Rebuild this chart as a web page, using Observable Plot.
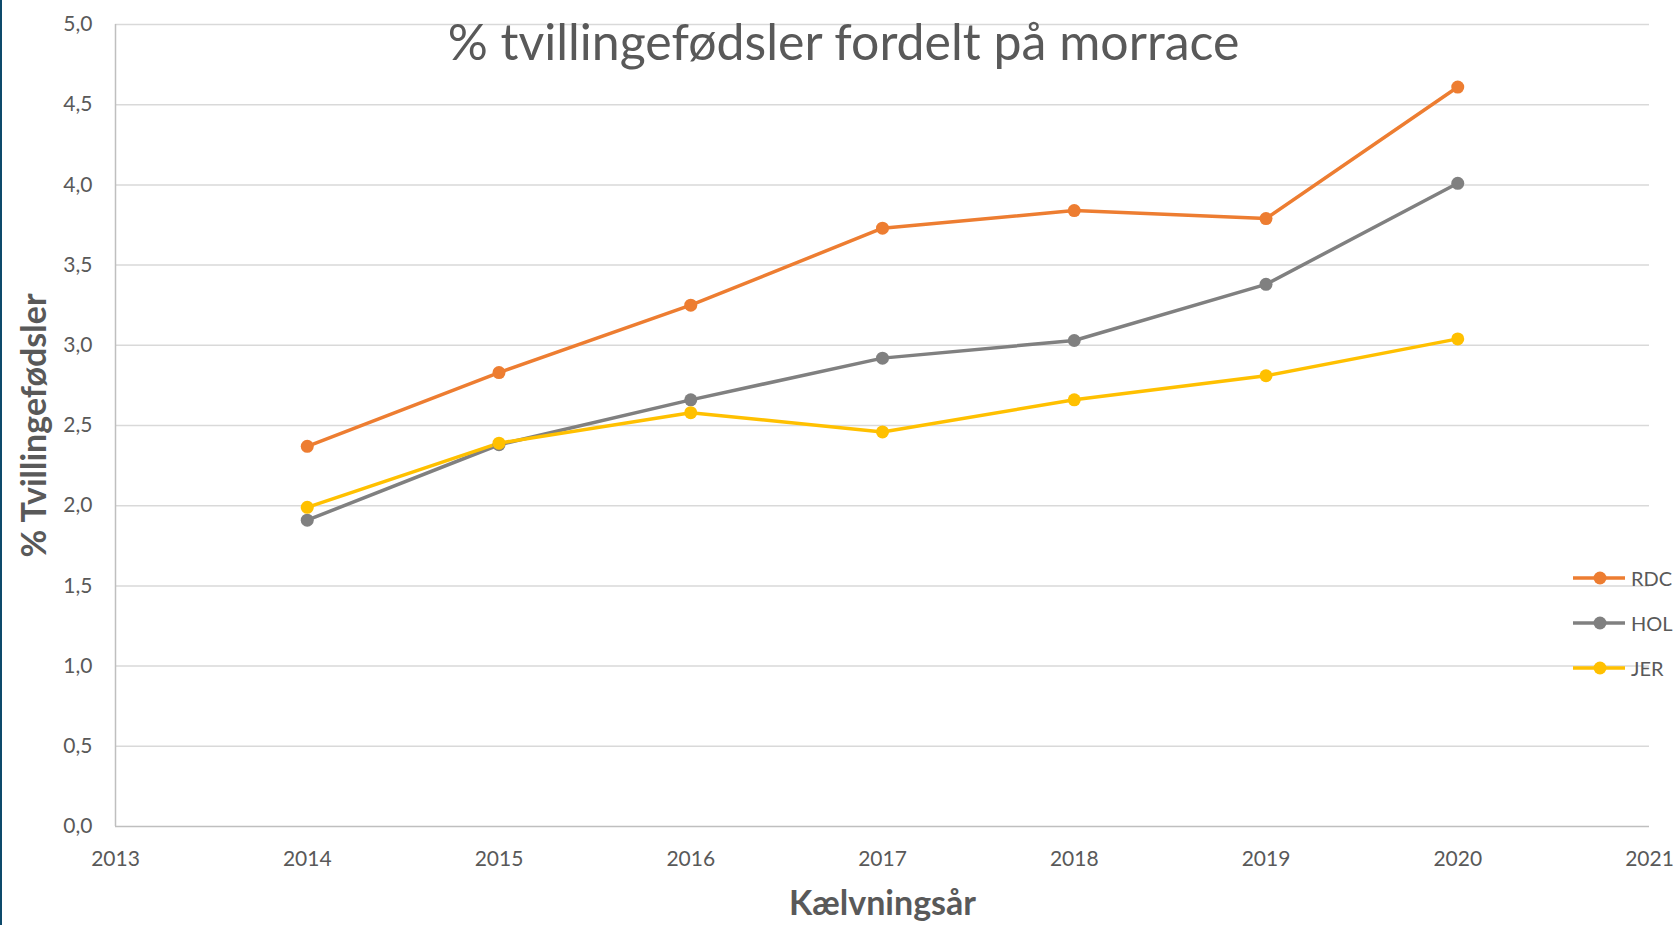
<!DOCTYPE html>
<html>
<head>
<meta charset="utf-8">
<script src="https://cdn.jsdelivr.net/npm/d3@7"></script>
<script src="https://cdn.jsdelivr.net/npm/@observablehq/plot@0.6"></script>
<style>
  html, body { margin: 0; padding: 0; background: #fff; }
  body { width: 1678px; height: 925px; position: relative; overflow: hidden; font-family: Lato, "Open Sans", sans-serif; }
  #edge { position: absolute; left: 0; top: 0; width: 2px; height: 925px; background: #0d4a6b; }
  #chart { position: absolute; left: 0; top: 0; }
  #legend { position: absolute; left: 1572px; top: 555px; font-family: Lato, sans-serif; font-size: 20px; color: #595959; }
  #legend .item { display: flex; align-items: center; height: 45px; }
  #legend svg { margin-right: 5px; }
</style>
</head>
<body>
<div id="edge"></div>
<div id="chart"></div>
<div id="legend"></div>
<script>
const years = [2014, 2015, 2016, 2017, 2018, 2019, 2020];
const seriesNames = ["RDC", "HOL", "JER"];
const rdc = [2.37, 2.83, 3.25, 3.73, 3.84, 3.79, 4.61];
const hol = [1.91, 2.38, 2.66, 2.92, 3.03, 3.38, 4.01];
const jer = [1.99, 2.39, 2.58, 2.46, 2.66, 2.81, 3.04];
const seriesColors = ["#ED7D31", "#808080", "#FFC000"];
const xTicks = [2013, 2014, 2015, 2016, 2017, 2018, 2019, 2020, 2021];
const yTicks = [0, 0.5, 1, 1.5, 2, 2.5, 3, 3.5, 4, 4.5, 5];
const titleText = "% tvillingefødsler fordelt på morrace";
const xLabel = "Kælvningsår";
const yLabel = "% Tvillingefødsler";

const valuesBySeries = {RDC: rdc, HOL: hol, JER: jer};
const data = seriesNames.flatMap(s => years.map((y, i) => ({series: s, year: y, value: valuesBySeries[s][i]})));
const fmtY = d => d3.format(".1f")(d).replace(".", ",");

const chart = Plot.plot({
  width: 1678,
  height: 925,
  marginLeft: 115,
  marginRight: 29,
  marginTop: 24,
  marginBottom: 99,
  style: {fontFamily: "Lato, 'Open Sans', sans-serif", color: "#595959", background: "transparent"},
  x: {domain: [2013, 2021], ticks: xTicks, tickFormat: d => String(d)},
  y: {domain: [0, 5], ticks: yTicks},
  color: {domain: seriesNames, range: seriesColors},
  marks: [
    Plot.gridY(yTicks.filter(d => d > 0), {stroke: "#D9D9D9", strokeOpacity: 1, strokeWidth: 1.5}),
    Plot.ruleY([0], {stroke: "#BFBFBF", strokeWidth: 1.5}),
    Plot.ruleX([2013], {stroke: "#BFBFBF", strokeWidth: 1.5}),
    Plot.axisX({ticks: xTicks, tickFormat: d => String(d), tickSize: 0, tickPadding: 25, fontSize: 21, label: null, fill: "#595959"}),
    Plot.axisY({ticks: yTicks, tickFormat: fmtY, tickSize: 0, tickPadding: 23, fontSize: 21, label: null, fill: "#595959"}),
    Plot.line(data, {x: "year", y: "value", z: "series", stroke: "series", strokeWidth: 3.5}),
    Plot.dot(data, {x: "year", y: "value", fill: "series", r: 6.5}),
    Plot.text([titleText], {frameAnchor: "top", dx: -39, dy: 19, fontSize: 50, fill: "#595959", lineAnchor: "middle"}),
    Plot.text([xLabel], {frameAnchor: "bottom", dx: 0, dy: 88, fontSize: 34, fontWeight: "bold", fill: "#595959"}),
    Plot.text([yLabel], {frameAnchor: "left", textAnchor: "middle", dx: -80, dy: 0, rotate: -90, fontSize: 34, fontWeight: "bold", fill: "#595959"})
  ]
});
document.getElementById("chart").appendChild(chart);

const legend = document.getElementById("legend");
seriesNames.forEach((s, i) => {
  const item = document.createElement("div");
  item.className = "item";
  item.innerHTML = `<svg width="54" height="16"><line x1="1" y1="8" x2="53" y2="8" stroke="${seriesColors[i]}" stroke-width="3.5"/><circle cx="28" cy="8" r="6.5" fill="${seriesColors[i]}"/></svg><span>${s}</span>`;
  legend.appendChild(item);
});
</script>
</body>
</html>
